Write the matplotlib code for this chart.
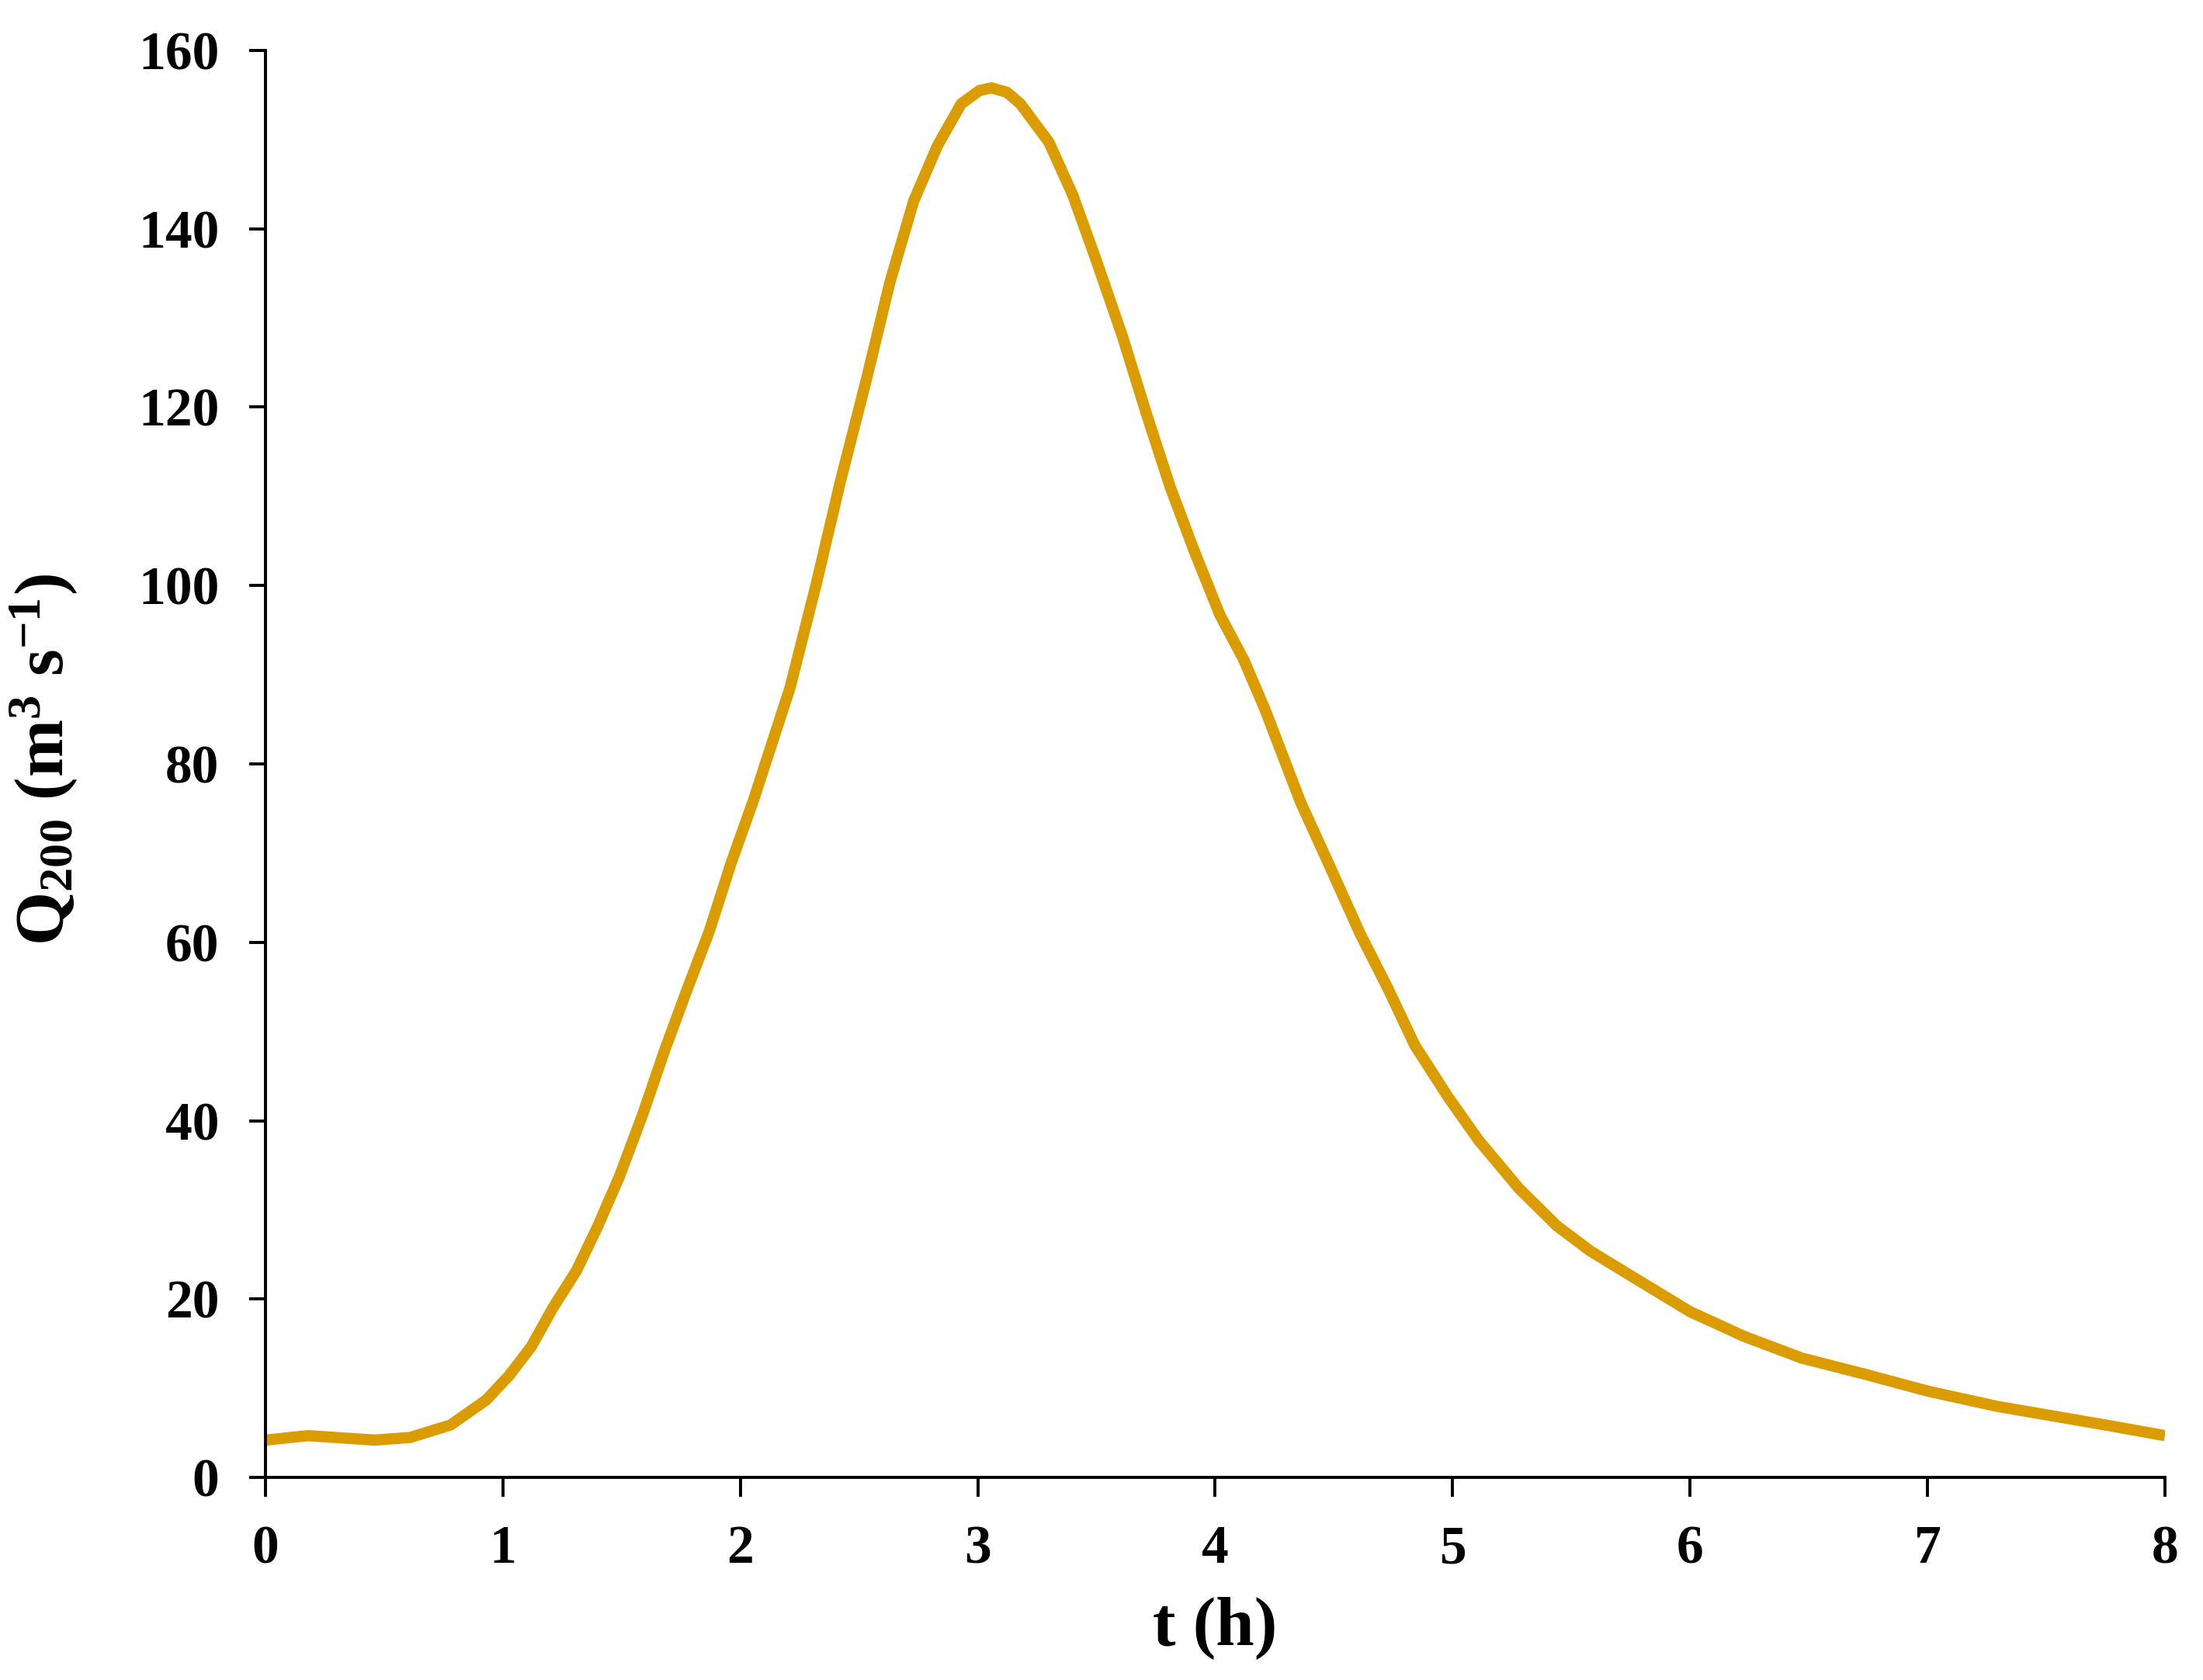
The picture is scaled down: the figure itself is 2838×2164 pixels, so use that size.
import matplotlib
matplotlib.use("Agg")
import matplotlib.pyplot as plt

# hydrograph (t in hours, Q in m3/s)
t_h = [0.0, 0.18, 0.46, 0.61, 0.78, 0.93, 1.025, 1.12, 1.21, 1.31, 1.40, 1.49,
       1.59, 1.68, 1.77, 1.87, 1.96, 2.055, 2.21, 2.32, 2.42, 2.53, 2.63, 2.73,
       2.83, 2.93, 3.007, 3.058, 3.123, 3.18, 3.30, 3.40, 3.50, 3.61, 3.71, 3.81,
       3.91, 4.02, 4.12, 4.21, 4.36, 4.49, 4.61, 4.73, 4.84, 4.98, 5.11, 5.28,
       5.44, 5.58, 5.74, 6.0, 6.23, 6.47, 6.72, 7.0, 7.29, 7.53, 7.77, 8.0]
q200 = [4.2, 4.7, 4.2, 4.5, 5.9, 8.7, 11.4, 14.7, 19.0, 23.2, 28.2, 33.7,
        40.8, 47.8, 54.3, 61.3, 68.8, 75.9, 88.6, 100.2, 111.5, 123.0, 134.0, 143.1,
        149.3, 154.0, 155.5, 155.8, 155.3, 154.0, 149.7, 143.8, 136.4, 127.9, 119.3, 111.1,
        104.0, 96.7, 91.7, 86.1, 75.7, 68.1, 61.0, 54.7, 48.5, 42.7, 37.8, 32.4,
        28.2, 25.4, 22.8, 18.6, 15.8, 13.4, 11.7, 9.7, 8.0, 6.9, 5.8, 4.7]

xticks = [0, 1, 2, 3, 4, 5, 6, 7, 8]
yticks = [0, 20, 40, 60, 80, 100, 120, 140, 160]

plt.rcParams['font.family'] = ['Liberation Serif', 'DejaVu Serif']
plt.rcParams['font.weight'] = 'bold'
plt.rcParams['mathtext.fontset'] = 'custom'
plt.rcParams['mathtext.rm'] = 'Liberation Serif:bold'
plt.rcParams['mathtext.it'] = 'Liberation Serif:bold'
plt.rcParams['mathtext.bf'] = 'Liberation Serif:bold'
plt.rcParams['mathtext.default'] = 'rm'

fig = plt.figure(figsize=(14.19, 10.82), dpi=200)
ax = fig.add_axes([0.1205, 0.1205, 0.8622, 0.8495])

ax.plot(t_h, q200, color='#DB9C00', linewidth=5.2,
        solid_capstyle='butt', solid_joinstyle='round')

ax.set_xlim(0, 8)
ax.set_ylim(0, 160)
ax.set_xticks(xticks)
ax.set_yticks(yticks)
for s in ['top', 'right']:
    ax.spines[s].set_visible(False)
for s in ['left', 'bottom']:
    ax.spines[s].set_linewidth(1.4)
ax.tick_params(axis='y', direction='out', length=7.5, width=1.4, pad=14, labelsize=25)
ax.tick_params(axis='x', direction='out', length=9, width=1.4, pad=13, labelsize=25)
for lab in ax.get_xticklabels() + ax.get_yticklabels():
    lab.set_fontweight('bold')

ax.set_xlabel("t (h)", fontsize=32, fontweight='bold')
ax.set_ylabel("Q$_{200}$ (m$^{3}$ s$^{-1}$)", fontsize=32, fontweight='bold')
ax.xaxis.set_label_coords(0.5, -0.083)
ax.yaxis.set_label_coords(-0.098, 0.503)

plt.savefig("out.png", dpi=200, facecolor='white')
